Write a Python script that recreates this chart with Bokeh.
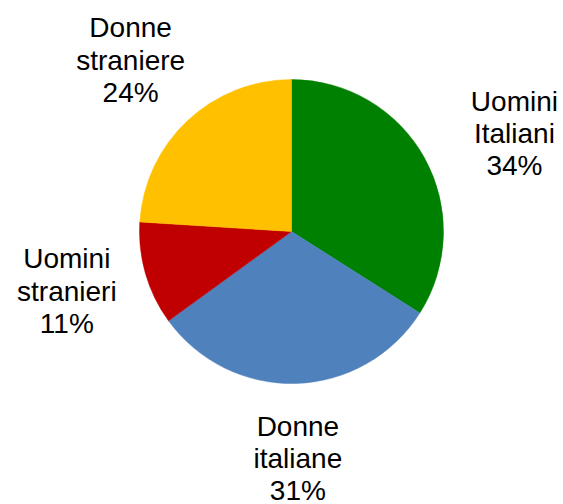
import math
from bokeh.plotting import figure
from bokeh.models import Range1d, ColumnDataSource
from bokeh.core.properties import value
from bokeh.embed import file_html
from bokeh.resources import INLINE

# ---- data ----
categories = ["Uomini Italiani", "Donne italiane", "Uomini stranieri", "Donne straniere"]
label_texts = ["Uomini\nItaliani", "Donne\nitaliane", "Uomini\nstranieri", "Donne\nstraniere"]
shares = [34, 31, 11, 24]
colors = ["#008000", "#4F81BD", "#C00000", "#FFC000"]

# ---- layout ----
W, H = 563, 504
cx, cy = 291, H - 231
r = 152
label_r = 235
nudge_x = [17, -1, 1, 0]
nudge_y = [-15, 8, 6, 0]

total = sum(shares)
starts, ends, lx, ly, labels = [], [], [], [], []
acc = 0.0
for i, s in enumerate(shares):
    a0 = math.pi / 2 - 2 * math.pi * acc / total
    a1 = math.pi / 2 - 2 * math.pi * (acc + s) / total
    starts.append(a0)
    ends.append(a1)
    mid = (a0 + a1) / 2
    lx.append(cx + label_r * math.cos(mid) + nudge_x[i])
    ly.append(cy + label_r * math.sin(mid) + nudge_y[i])
    labels.append(f"{label_texts[i]}\n{round(100 * s / total)}%")
    acc += s

p = figure(width=W, height=H, x_range=Range1d(0, W), y_range=Range1d(0, H),
           output_backend="svg", toolbar_location=None, min_border=0,
           background_fill_color="white", border_fill_color="white")
p.axis.visible = False
p.grid.visible = False
p.outline_line_color = None

src = ColumnDataSource(dict(start=starts, end=ends, color=colors, cat=categories))
p.wedge(x=cx, y=cy, radius=r, start_angle="start", end_angle="end",
        direction="clock", fill_color="color", line_color="color", line_width=0.5,
        source=src)

tsrc = ColumnDataSource(dict(x=lx, y=ly, text=labels))
p.text(x="x", y="y", text="text", source=tsrc, text_align="center",
       text_baseline="middle", text_font=value("Liberation Sans"),
       text_font_size="28px", text_color="black", text_line_height=1.04)

open("out.html", "w").write(file_html(p, INLINE))
